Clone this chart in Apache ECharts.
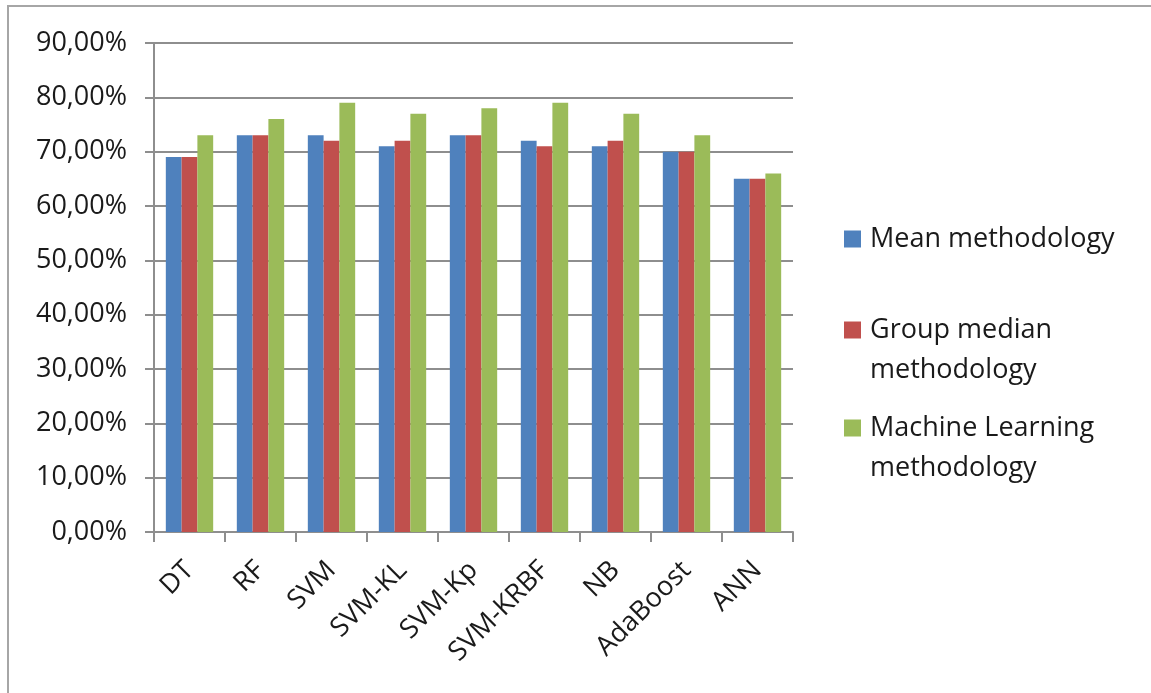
<!DOCTYPE html>
<html>
<head>
<meta charset="utf-8">
<style>
  html, body { margin: 0; padding: 0; background: #ffffff; }
  #chart { width: 1151px; height: 693px; }
</style>
<script src="https://cdn.jsdelivr.net/npm/echarts@6/dist/echarts.min.js"></script>
</head>
<body>
<div id="chart"></div>
<script>
// Accuracy (%) of each classifier under three imputation methodologies
const categories = ['DT', 'RF', 'SVM', 'SVM-KL', 'SVM-Kp', 'SVM-KRBF', 'NB', 'AdaBoost', 'ANN'];
const meanValues = [69, 73, 73, 71, 73, 72, 71, 70, 65];
const groupMedianValues = [69, 73, 72, 72, 73, 71, 72, 70, 65];
const machineLearningValues = [73, 76, 79, 77, 78, 79, 77, 73, 66];
const seriesNames = ['Mean methodology', 'Group median\nmethodology', 'Machine Learning\nmethodology'];
const seriesColors = ['#4F81BD', '#C0504D', '#9BBB59'];

const FONT = 'Open Sans';
const FONT_SIZE = 27;
const TEXT_COLOR = '#1a1a1a';
const LINE_COLOR = '#8e8e8e';

const chart = echarts.init(document.getElementById('chart'), null, { renderer: 'canvas' });

function pct(v) {
  return v.toFixed(2).replace('.', ',') + '%';
}

// one legend block per series so each can sit at its own height;
// two-line names get a blank leading line so the swatch lines up with the first line
function legendBlock(name, top, twoLines) {
  return {
    data: [name],
    left: 844,
    top: top,
    orient: 'vertical',
    padding: 0,
    icon: 'rect',
    itemWidth: 17,
    itemHeight: 17,
    selectedMode: false,
    formatter: twoLines ? (n) => '\n' + n : (n) => n,
    textStyle: {
      fontFamily: FONT,
      fontSize: FONT_SIZE,
      color: TEXT_COLOR,
      lineHeight: 40,
      backgroundColor: 'rgba(0,0,0,0)',
      padding: [0, 0, 0, 4]
    }
  };
}

const option = {
  backgroundColor: '#ffffff',
  animation: false,
  graphic: [{
    type: 'rect',
    shape: { x: 8, y: 6, width: 1300, height: 900 },
    style: { fill: 'none', stroke: '#a6a6a6', lineWidth: 2 },
    silent: true
  }],
  grid: { left: 154, right: 358, top: 43, bottom: 161, containLabel: false },
  legend: [
    legendBlock(seriesNames[0], 219, false),
    legendBlock(seriesNames[1], 270, true),
    legendBlock(seriesNames[2], 368, true)
  ],
  xAxis: {
    type: 'category',
    data: categories,
    boundaryGap: true,
    axisLine: { show: true, lineStyle: { color: LINE_COLOR, width: 2 } },
    axisTick: { show: true, length: 10, alignWithLabel: false, lineStyle: { color: LINE_COLOR, width: 2 } },
    axisLabel: {
      rotate: 45,
      margin: 34,
      interval: 0,
      fontFamily: FONT,
      fontSize: FONT_SIZE,
      color: TEXT_COLOR
    },
    splitLine: { show: false }
  },
  yAxis: {
    type: 'value',
    min: 0,
    max: 90,
    interval: 10,
    axisLine: { show: true, lineStyle: { color: LINE_COLOR, width: 2 } },
    axisTick: { show: true, length: 9, lineStyle: { color: LINE_COLOR, width: 2 } },
    axisLabel: {
      margin: 27,
      fontFamily: FONT,
      fontSize: FONT_SIZE,
      color: TEXT_COLOR,
      formatter: pct
    },
    splitLine: { show: true, lineStyle: { color: LINE_COLOR, width: 2 } }
  },
  series: [
    { name: seriesNames[0], type: 'bar', data: meanValues, itemStyle: { color: seriesColors[0] }, barGap: '0%', barCategoryGap: '33.3%' },
    { name: seriesNames[1], type: 'bar', data: groupMedianValues, itemStyle: { color: seriesColors[1] }, barGap: '0%', barCategoryGap: '33.3%' },
    { name: seriesNames[2], type: 'bar', data: machineLearningValues, itemStyle: { color: seriesColors[2] }, barGap: '0%', barCategoryGap: '33.3%' }
  ]
};

chart.setOption(option);
</script>
</body>
</html>
